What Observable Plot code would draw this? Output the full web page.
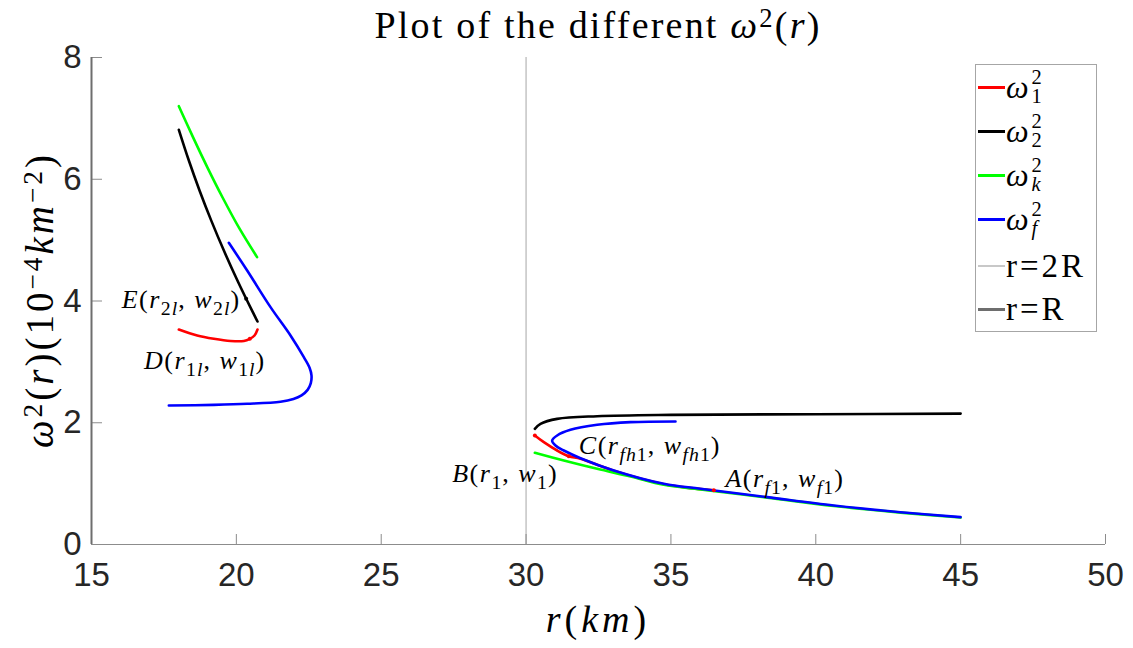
<!DOCTYPE html>
<html><head><meta charset="utf-8">
<script src="https://cdn.jsdelivr.net/npm/d3@7"></script>
<script src="https://cdn.jsdelivr.net/npm/@observablehq/plot@0.6"></script>
<style>
body{margin:0;background:#fff;}
#wrap{position:relative;width:1133px;height:648px;overflow:hidden;font-family:"Liberation Serif",serif;color:#000;}
.abs{position:absolute;white-space:nowrap;line-height:1;}
.sup{font-size:0.7em;position:relative;top:-0.42em;}
i{font-style:italic;}
#title{left:0;width:1196px;text-align:center;top:6px;font-size:38px;letter-spacing:2.2px;}
#xlab{left:0;width:1196px;text-align:center;top:600px;font-size:38px;letter-spacing:4px;}
#ylab{left:39px;top:300px;font-size:39px;letter-spacing:3px;transform:translate(-50%,-50%) rotate(-90deg);}
#legend{left:975px;top:64px;width:122px;height:268px;border:1px solid #a6a6a6;background:#fff;box-sizing:border-box;}
.entry{position:absolute;left:0;height:40px;display:flex;align-items:center;font-size:32px;}
.swatch{width:27px;height:0;border-top:3px solid;margin-left:2px;margin-right:1px;}
.ss{display:inline-flex;flex-direction:column;font-size:0.64em;line-height:0.92;margin-left:3px;}
.txt{letter-spacing:3px;font-size:33px;}
</style></head>
<body><div id="wrap"></div>
<script>
// ---- data ----
const xTicks = [15, 20, 25, 30, 35, 40, 45, 50];
const yTicks = [0, 2, 4, 6, 8];
const seriesKeys = ["w1", "w2", "wk", "wf"];
const seriesColors = ["#ff0000", "#000000", "#00ff00", "#0000ff"];

// omega_1^2 (red)
const w1Left = [[18.015,3.532],[18.648,3.433],[19.223,3.379],[19.798,3.343],[20.258,3.343],[20.465,3.379],[20.626,3.433],[20.730,3.532]];
const w1Right = [[30.303,1.791],[30.613,1.681],[31.073,1.544],[31.476,1.451],[31.879,1.410],[33.030,1.210],[34.755,0.990],[36.480,0.890]];
// omega_2^2 (black)
const w2Left = [[18.015,6.812],[18.357,6.312],[18.732,5.812],[19.141,5.312],[19.584,4.812],[20.061,4.312],[20.572,3.812],[20.730,3.663]];
const w2Right = [[30.303,1.900],[30.498,1.982],[31.073,2.064],[32.454,2.108],[35.0,2.130],[40.0,2.140],[45.0,2.150]];
// omega_k^2 (green)
const wkLeft = [[18.015,7.200],[18.495,6.700],[18.995,6.200],[19.525,5.700],[20.095,5.200],[20.715,4.720]];
const wkRight = [[30.303,1.506],[31.303,1.380],[32.454,1.243],[33.605,1.117],[34.755,0.980],[36.021,0.905],[38.322,0.770],[40.623,0.633],[42.925,0.524],[44.996,0.443]];
// omega_f^2 (blue)
const wfLeft = [[19.740,4.956],[20.373,4.501],[21.179,3.899],[21.869,3.433],[22.329,3.077],[22.530,2.900],[22.594,2.776],[22.570,2.650],[22.460,2.540],[22.250,2.450],[21.970,2.390],[21.524,2.345],[20.373,2.311],[19.223,2.294],[17.669,2.283]];
const wfRight = [[35.158,2.021],[33.605,2.010],[32.454,1.966],[31.532,1.884],[31.073,1.791],[30.900,1.708],[31.016,1.626],[31.303,1.544],[31.879,1.418],[33.030,1.216],[34.755,0.997],[36.021,0.915],[38.322,0.778],[40.623,0.641],[42.925,0.531],[44.996,0.449]];

// marked points
const markR = [20.339, 20.465, 30.303, 31.476, 36.480];
const markW = [4.036, 3.379, 1.791, 1.451, 0.890];
const markS = ["w2", "w1", "w1", "w1", "w1"];

// annotations
const labelText = ["E(r_{2l}, w_{2l})", "D(r_{1l}, w_{1l})", "B(r_{1}, w_{1})", "C(r_{fh1}, w_{fh1})", "A(r_{f1}, w_{f1})"];
const labelR = [16.04, 16.81, 27.45, 31.82, 36.88];
const labelW = [4.03, 3.02, 1.16, 1.63, 1.08];

// ---- build tables ----
const segments = [["w1","w1L",w1Left],["w1","w1R",w1Right],["w2","w2L",w2Left],["w2","w2R",w2Right],
                  ["wk","wkL",wkLeft],["wk","wkR",wkRight],["wf","wfL",wfLeft],["wf","wfR",wfRight]];
const rows = segments.flatMap(([s, id, pts]) => pts.map(([r, w]) => ({series: s, seg: id, r, w})));
const marks = markR.map((r, i) => ({r, w: markW[i], series: markS[i]}));
const labels = labelText.map((t, i) => ({t, r: labelR[i], w: labelW[i]}));

const W = 1133, H = 648, mL = 91, mR = 28, mT = 57, mB = 104;
const fw = W - mL - mR, fh = H - mT - mB;
const annFont = 26;

const chart = Plot.plot({
  width: W, height: H,
  marginLeft: mL, marginRight: mR, marginTop: mT, marginBottom: mB,
  x: {domain: [15, 50], ticks: xTicks},
  y: {domain: [0, 8], ticks: yTicks},
  color: {domain: seriesKeys, range: seriesColors},
  style: {fontFamily: "'Liberation Sans', Arial, sans-serif", background: "#fff", overflow: "visible"},
  marks: [
    Plot.ruleX([30], {stroke: "#c4c4c4", strokeWidth: 1.5}),
    Plot.ruleY([0], {stroke: "#8c8c8c", strokeWidth: 1}),
    Plot.tickX(xTicks, {x: d => d, insetTop: fh - 10, stroke: "#8c8c8c"}),
    Plot.tickY(yTicks, {y: d => d, insetRight: fw - 11, stroke: "#8c8c8c"}),
    Plot.ruleX([15], {stroke: "#6e6e6e", strokeWidth: 2}),
    Plot.axisX({ticks: xTicks, tickSize: 0, tickPadding: 18, fontSize: 33, label: null, color: "#262626"}),
    Plot.axisY({ticks: yTicks, tickSize: 0, tickPadding: 10, fontSize: 33, label: null, color: "#262626"}),
    Plot.line(rows, {x: "r", y: "w", z: "seg", stroke: "series", strokeWidth: 2.6, curve: "catmull-rom"}),
    Plot.dot(marks, {x: "r", y: "w", fill: "series", r: 2}),
    Plot.text(labels, {x: "r", y: "w", text: "t", textAnchor: "start", lineAnchor: "middle",
      fontSize: annFont, fontFamily: "'Liberation Serif', serif", fill: "#000"})
  ]
});

// convert _{..} markup into tspans
const NS = "http://www.w3.org/2000/svg";
function richify(el, fs) {
  const src = el.textContent;
  while (el.firstChild) el.removeChild(el.firstChild);
  const parts = [];
  let i = 0;
  const isMark = k => (src[k] === "_" || src[k] === "^") && src[k+1] === "{";
  while (i < src.length) {
    if (isMark(i)) {
      const end = src.indexOf("}", i);
      parts.push({s: src.slice(i+2, end), lvl: src[i] === "_" ? 1 : -1});
      i = end + 1;
    } else {
      let j = i;
      while (j < src.length && !isMark(j)) j++;
      parts.push({s: src.slice(i, j), lvl: 0});
      i = j;
    }
  }
  let cur = 0;
  for (const p of parts) {
    const off = p.lvl === 1 ? fs * 0.27 : p.lvl === -1 ? -fs * 0.4 : 0;
    const size = p.lvl ? fs * 0.76 : fs;
    const runs = p.s.match(/[A-Za-z]+|[^A-Za-z]+/g) || [];
    runs.forEach((run, k) => {
      const t = document.createElementNS(NS, "tspan");
      t.textContent = run;
      t.setAttribute("font-size", size);
      t.setAttribute("font-style", /[A-Za-z]/.test(run) ? "italic" : "normal");
      t.setAttribute("letter-spacing", p.lvl ? "1" : "1.5");
      if (k === 0) { t.setAttribute("dy", off - cur); cur = off; }
      el.appendChild(t);
    });
  }
}
chart.querySelectorAll("text").forEach(el => { if (el.textContent.includes("_{")) richify(el, annFont); });

const wrap = document.getElementById("wrap");
wrap.appendChild(chart);

const html = `
<div class="abs" id="title">Plot of the different <i>ω</i><span class="sup">2</span>(<i>r</i>)</div>
<div class="abs" id="xlab"><i>r</i>(<i>km</i>)</div>
<div class="abs" id="ylab"><i>ω</i><span class="sup">2</span>(<i>r</i>)(10<span class="sup">−4</span><i>km</i><span class="sup">−2</span>)</div>
<div class="abs" id="legend">
  <div class="entry" style="top:2px"><div class="swatch" style="border-color:#ff0000"></div><i>ω</i><span class="ss"><span>2</span><span>1</span></span></div>
  <div class="entry" style="top:46px"><div class="swatch" style="border-color:#000000"></div><i>ω</i><span class="ss"><span>2</span><span>2</span></span></div>
  <div class="entry" style="top:90px"><div class="swatch" style="border-color:#00ff00"></div><i>ω</i><span class="ss"><span>2</span><i>k</i></span></div>
  <div class="entry" style="top:134px"><div class="swatch" style="border-color:#0000ff"></div><i>ω</i><span class="ss"><span>2</span><i>f</i></span></div>
  <div class="entry" style="top:181px"><div class="swatch" style="border-top:2px solid #c8c8c8"></div><span class="txt">r=2R</span></div>
  <div class="entry" style="top:224px"><div class="swatch" style="border-color:#6e6e6e"></div><span class="txt">r=R</span></div>
</div>`;
wrap.insertAdjacentHTML("beforeend", html);
</script>
</body></html>
